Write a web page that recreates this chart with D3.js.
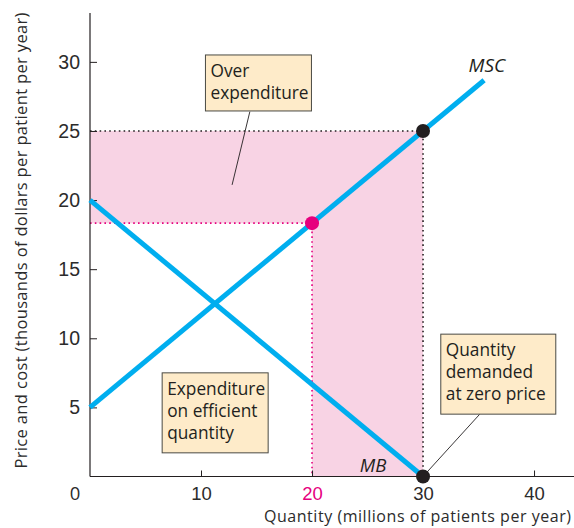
<!DOCTYPE html>
<html>
<head>
<meta charset="utf-8">
<script src="https://cdn.jsdelivr.net/npm/d3@7"></script>
<style>
  html, body { margin: 0; padding: 0; background: #fff; }
  svg { display: block; font-family: "Open Sans", "Noto Sans", sans-serif; }
</style>
</head>
<body>
<svg id="chart" width="574" height="528"></svg>
<script>
// ---- data ----
const xTicks = [10, 20, 30, 40];
const yTicks = [5, 10, 15, 20, 25, 30];
const mscLine = [[0, 5], [35.5, 28.67]];
const mbLine = [[0, 20], [30, 0]];
const efficientPoint = [20, 18.33];
const overPoint = [30, 25];
const zeroPricePoint = [30, 0];
const xLabel = "Quantity (millions of patients per year)";
const yLabel = "Price and cost (thousands of dollars per patient per year)";
const boxes = [
  { lines: ["Over", "expenditure"], x: 10.4, y: 30.5, w: 106, h: 56, leader: [[14.4, 26.4], [12.8, 21.1]] },
  { lines: ["Expenditure", "on efficient", "quantity"], x: 6.5, y: 7.5, w: 106, h: 80, leader: null },
  { lines: ["Quantity", "demanded", "at zero price"], x: 31.6, y: 10.3, w: 115, h: 80, leader: [[35.1, 4.5], [30, 0]] }
];

const svg = d3.select("#chart");
const x = d3.scaleLinear().domain([0, 43.6]).range([90, 574]);
const y = d3.scaleLinear().domain([0, 33.5]).range([476.5, 13.5]);

const blue = "#00AEEF", pink = "#F8D3E4", magenta = "#E6007E", dark = "#231F20", textCol = "#2b2b2b";

// shaded area
const shade = [[0, efficientPoint[1]], [0, overPoint[1]], [overPoint[0], overPoint[1]], [overPoint[0], 0],
               [efficientPoint[0], 0], [efficientPoint[0], efficientPoint[1]]];
svg.append("path")
  .attr("d", d3.line().x(d => x(d[0])).y(d => y(d[1]))(shade) + "Z")
  .attr("fill", pink);

// dotted guide lines
const dotted = (pts, color) => svg.append("path")
  .attr("d", d3.line().x(d => x(d[0])).y(d => y(d[1]))(pts))
  .attr("fill", "none").attr("stroke", color).attr("stroke-width", 1.6)
  .attr("stroke-dasharray", "1.6,3.2");
dotted([[0, overPoint[1]], [overPoint[0], overPoint[1]], [overPoint[0], 0]], dark);
dotted([[0, efficientPoint[1]], [efficientPoint[0], efficientPoint[1]], [efficientPoint[0], 0]], magenta);

// axes
const xAxis = d3.axisBottom(x).tickValues(xTicks).tickSize(-6).tickFormat(d3.format("d"));
const gx = svg.append("g").attr("transform", `translate(0,${y(0)})`).call(xAxis);
gx.select(".domain").attr("d", `M${x(0)},0H574`).attr("stroke", dark).attr("stroke-width", 1.2);
gx.selectAll(".tick line").attr("stroke", dark);
gx.selectAll(".tick text").attr("font-size", 18.5).attr("fill", d => d === 20 ? magenta : textCol)
  .attr("y", 23).attr("dy", 0);

const yAxis = d3.axisLeft(y).tickValues(yTicks).tickSize(-7).tickPadding(10);
const gy = svg.append("g").attr("transform", `translate(${x(0)},0)`).call(yAxis);
gy.select(".domain").attr("d", `M0,${y(0)}V13`).attr("stroke", dark).attr("stroke-width", 1.2);
gy.selectAll(".tick line").attr("stroke", dark);
gy.selectAll(".tick text").attr("font-size", 19.5).attr("fill", textCol);

svg.append("text").attr("x", 75).attr("y", 499.5).attr("text-anchor", "middle")
  .attr("font-size", 18.5).attr("fill", textCol).text("0");

svg.append("text").attr("x", 571).attr("y", 522).attr("text-anchor", "end")
  .attr("font-size", 16).attr("textLength", 307).attr("lengthAdjust", "spacing")
  .attr("fill", textCol).text(xLabel);
svg.append("text").attr("transform", "translate(27,240.5) rotate(-90)").attr("text-anchor", "middle")
  .attr("font-size", 16.5).attr("textLength", 456).attr("lengthAdjust", "spacing")
  .attr("fill", textCol).text(yLabel);

// curves
const line = d3.line().x(d => x(d[0])).y(d => y(d[1]));
svg.append("path").attr("d", line(mbLine)).attr("stroke", blue).attr("stroke-width", 5).attr("fill", "none");
svg.append("path").attr("d", line(mscLine)).attr("stroke", blue).attr("stroke-width", 5).attr("fill", "none");

svg.append("text").attr("x", x(34.1)).attr("y", y(29.3)).attr("font-size", 19).attr("font-style", "italic")
  .attr("fill", dark).text("MSC");
svg.append("text").attr("x", x(24.3)).attr("y", y(0.35)).attr("font-size", 18.5).attr("font-style", "italic")
  .attr("fill", dark).text("MB");

// leaders and boxes
boxes.forEach(b => {
  if (b.leader) {
    svg.append("path").attr("d", line(b.leader)).attr("stroke", dark).attr("stroke-width", 0.9).attr("fill", "none");
  }
  const g = svg.append("g").attr("transform", `translate(${x(b.x)},${y(b.y)})`);
  g.append("rect").attr("width", b.w).attr("height", b.h).attr("fill", "#FEEBC9")
    .attr("stroke", "#4A4A44").attr("stroke-width", 1);
  b.lines.forEach((t, i) => g.append("text").attr("x", 5).attr("y", 22 + i * 22)
    .attr("font-size", 17.3).attr("fill", dark).text(t));
});

// points
svg.append("circle").attr("cx", x(efficientPoint[0])).attr("cy", y(efficientPoint[1])).attr("r", 7).attr("fill", magenta);
[overPoint, zeroPricePoint].forEach(p =>
  svg.append("circle").attr("cx", x(p[0])).attr("cy", y(p[1])).attr("r", 7).attr("fill", dark));
</script>
</body>
</html>
